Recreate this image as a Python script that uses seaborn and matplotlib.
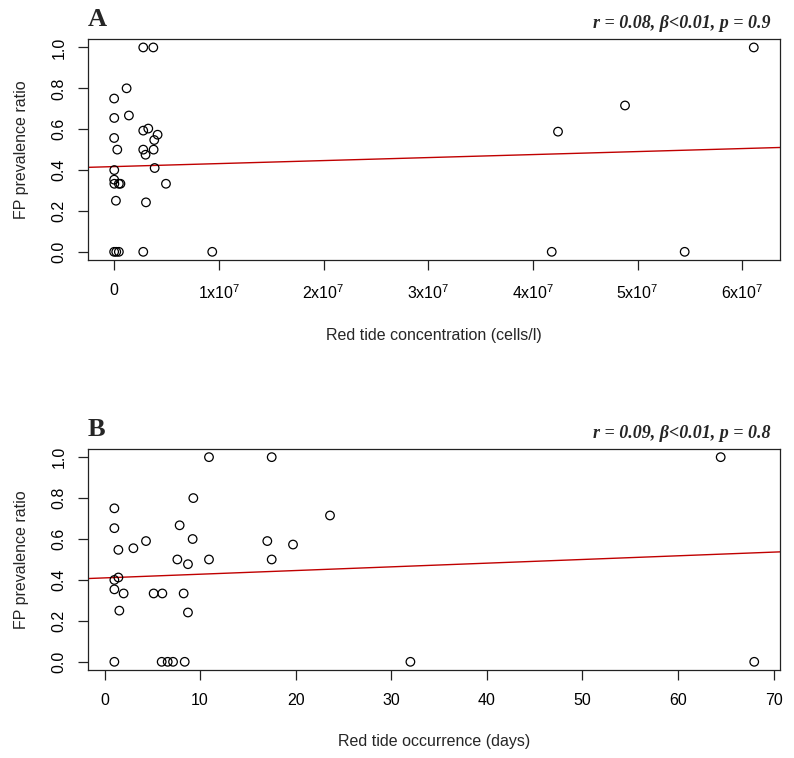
import numpy as np
import pandas as pd
import matplotlib.pyplot as plt
import seaborn as sns

# values (34 sites)
fp_ratio = [1.0, 1.0, 1.0, 0.80, 0.75, 0.716, 0.667, 0.655, 0.603, 0.593, 0.588,
            0.573, 0.557, 0.547, 0.50, 0.50, 0.50, 0.475, 0.41, 0.40, 0.353,
            0.333, 0.333, 0.333, 0.333, 0.25, 0.242, 0.0, 0.0, 0.0, 0.0, 0.0, 0.0, 0.0]

concentration = [2.78e6, 3.74e6, 6.11e7, 1.19e6, 0.0, 4.88e7, 1.41e6, 0.01e6, 3.26e6,
                 2.78e6, 4.24e7, 4.15e6, 0.0, 3.83e6, 0.30e6, 2.78e6, 3.77e6, 3.0e6,
                 3.87e6, 0.01e6, 0.0, 0.02e6, 0.45e6, 0.6e6, 4.95e6, 0.17e6, 3.04e6,
                 0.0, 0.2e6, 0.45e6, 2.78e6, 9.37e6, 4.18e7, 5.45e7]

fp_ratio_b = [1.0, 1.0, 1.0, 0.80, 0.75, 0.715, 0.667, 0.653, 0.60, 0.59, 0.59,
              0.573, 0.555, 0.547, 0.50, 0.50, 0.50, 0.477, 0.412, 0.40, 0.354,
              0.334, 0.334, 0.334, 0.334, 0.25, 0.241, 0.0, 0.0, 0.0, 0.0, 0.0, 0.0, 0.0]

occurrence = [10.93, 17.49, 64.46, 9.29, 1.03, 23.59, 7.86, 1.03, 9.22, 4.34, 17.03,
              19.72, 3.02, 1.45, 7.62, 10.93, 17.49, 8.73, 1.45, 1.03, 1.03,
              2.0, 5.14, 6.05, 8.28, 1.55, 8.73, 1.03, 5.98, 6.61, 7.17, 8.39, 32.0, 67.97]

# fitted lines as shown in the figure (intercept, slope)
fit_a = (0.417, 1.47e-9)
fit_b = (0.410, 0.0018)

stats_a = "r = 0.08, β<0.01, p = 0.9"
stats_b = "r = 0.09, β<0.01, p = 0.8"

conc_ticks = [0, 1e7, 2e7, 3e7, 4e7, 5e7, 6e7]
conc_labels = ["0"] + [f"{i}x10$\\mathregular{{^7}}$" for i in range(1, 7)]
days_ticks = [0, 10, 20, 30, 40, 50, 60, 70]

df_a = pd.DataFrame({"x": concentration, "y": fp_ratio})
df_b = pd.DataFrame({"x": occurrence, "y": fp_ratio_b})

sns.set_style("ticks")
plt.rcParams['font.family'] = ['Liberation Sans', 'DejaVu Sans']
plt.rcParams['axes.linewidth'] = 0.9
plt.rcParams['axes.edgecolor'] = '#222222'

fig = plt.figure(figsize=(7.94, 7.58), dpi=100)
ax_a = fig.add_axes([0.1108, 0.657, 0.8715, 0.2912])
ax_b = fig.add_axes([0.1108, 0.1161, 0.8715, 0.2916])

panels = [
    (ax_a, df_a, fit_a, (-2.5e6, 6.36e7), conc_ticks, conc_labels,
     "Red tide concentration (cells/l)", "A", stats_a),
    (ax_b, df_b, fit_b, (-1.73, 70.66), days_ticks, [str(t) for t in days_ticks],
     "Red tide occurrence (days)", "B", stats_b),
]

for ax, df, fit, xlim, ticks, labels, xlabel, letter, stats in panels:
    sns.scatterplot(data=df, x="x", y="y", ax=ax, s=38, facecolor="none",
                    edgecolor="black", linewidth=0.9, zorder=3)
    ax.axline((0, fit[0]), slope=fit[1], color="#C00000", lw=1.0, zorder=2)
    ax.set_xlim(*xlim)
    ax.set_ylim(-0.04, 1.04)
    ax.set_xticks(ticks)
    ax.set_xticklabels(labels)
    ax.set_yticks([0, 0.2, 0.4, 0.6, 0.8, 1.0])
    ax.set_yticklabels(["0.0", "0.2", "0.4", "0.6", "0.8", "1.0"], rotation=90,
                       va="center")
    ax.tick_params(axis="both", direction="out", length=7.5, width=0.9,
                   labelsize=11.5, colors="#222222", labelcolor="black")
    ax.tick_params(axis="x", pad=9)
    ax.tick_params(axis="y", pad=8)
    for sp in ax.spines.values():
        sp.set_visible(True)
    ax.set_xlabel(xlabel, fontsize=11.5, labelpad=19)
    ax.set_ylabel("FP prevalence ratio", fontsize=11.5, labelpad=16)
    ax.text(0.0, 1.058, letter, transform=ax.transAxes, fontsize=19,
            fontweight="bold", family="Liberation Serif", ha="left", va="baseline")
    ax.text(0.987, 1.05, stats, transform=ax.transAxes, fontsize=13,
            fontweight="bold", fontstyle="italic", family="Liberation Serif",
            ha="right", va="baseline")

fig.savefig("out.png", dpi=100, facecolor="white")
